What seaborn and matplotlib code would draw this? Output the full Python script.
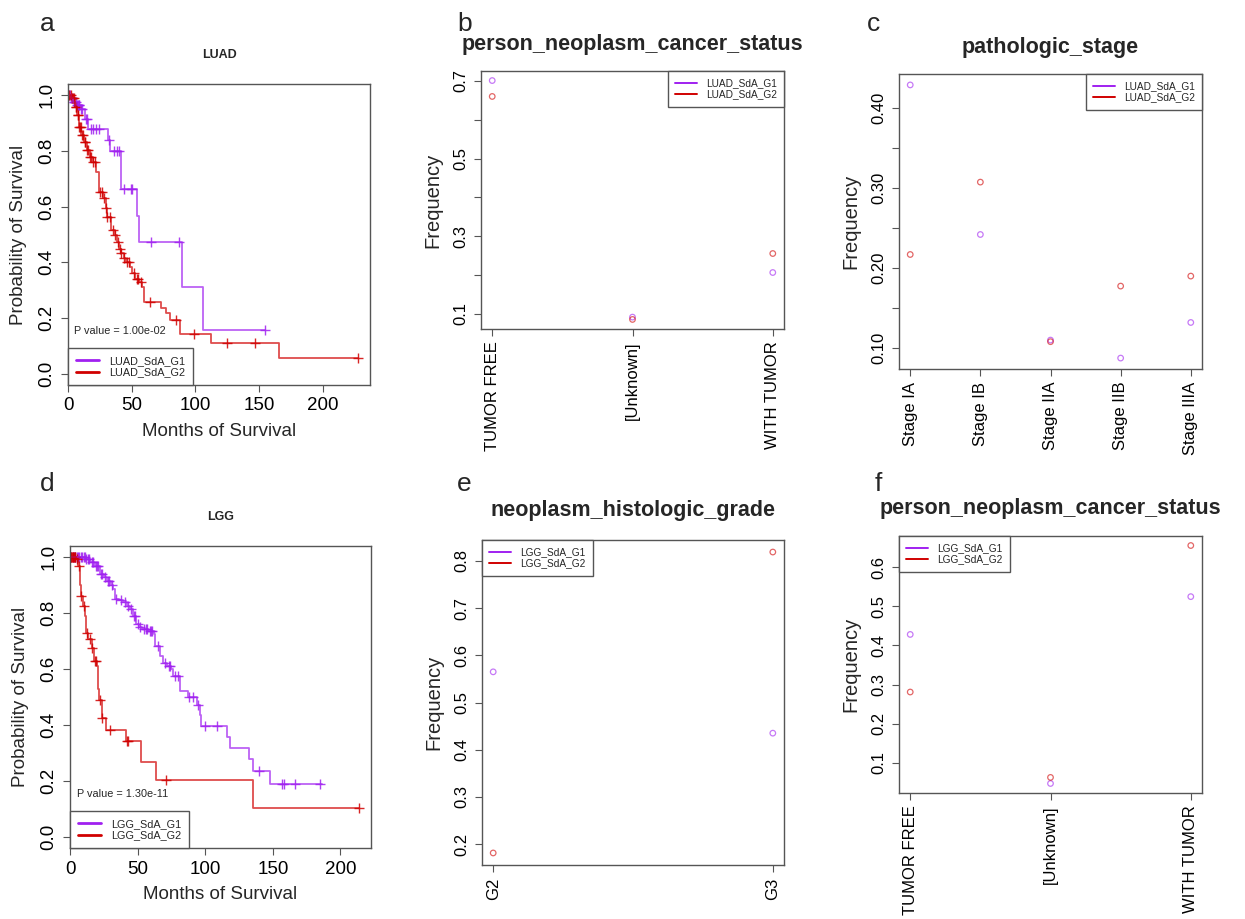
import numpy as np
import matplotlib
matplotlib.use("Agg")
import matplotlib.pyplot as plt
from matplotlib.lines import Line2D
import seaborn as sns

# ---------------- Kaplan-Meier curves ----------------
# LUAD, group 1 (purple)
luad_g1_t = [0, 2, 4, 7, 10, 13, 16, 31.5, 33, 42, 54, 55.5, 89.5, 106]
luad_g1_s = [1.0, 0.988, 0.976, 0.964, 0.952, 0.915, 0.88, 0.84, 0.80, 0.665, 0.567, 0.473, 0.313, 0.158]
luad_g1_end = 155
luad_g1_cens = [1, 1.5, 2.5, 3, 4.5, 5, 6, 7, 8, 8.5, 9, 10.5, 11, 14, 15, 18, 20, 22, 24,
                32.5, 36.5, 38.5, 40, 44, 49.5, 50.5, 65, 87, 155]

# LUAD, group 2 (red)
luad_g2_t = [0, 2.6, 5.2, 7, 8.6, 10.5, 12.3, 15, 17, 19.6, 21.7, 24.3, 27.5, 30, 30.6, 33.5,
             36.6, 38.4, 40, 41.8, 43.7, 45.8, 48.4, 50.5, 52.3, 55.7, 58.3, 60, 73, 77, 79.7,
             87.6, 112.4, 166]
luad_g2_s = [1.0, 0.988, 0.958, 0.928, 0.886, 0.857, 0.833, 0.803, 0.779, 0.761, 0.725, 0.654,
             0.630, 0.594, 0.564, 0.516, 0.498, 0.474, 0.447, 0.432, 0.415, 0.403, 0.385, 0.361,
             0.339, 0.331, 0.313, 0.259, 0.235, 0.217, 0.194, 0.143, 0.112, 0.056]
luad_g2_end = 228
luad_g2_cens = [1, 2, 3, 4, 5, 6, 6.5, 7.5, 8, 9, 9.5, 10, 11, 12, 13, 13.5, 15, 16, 17.5, 18,
                20, 21, 25, 27, 28.5, 30, 31, 33, 35, 37, 39.5, 40.5, 42, 44, 46, 48, 52, 54,
                55, 57, 64, 85, 99, 125, 147, 228]

# LGG, group 1 (purple)
lgg_g1_t = [0, 12, 15, 18.5, 22, 25, 27, 30, 32, 33, 36, 39.4, 42, 44, 46.8, 49, 51, 53, 58,
            62, 63, 66.5, 69, 72, 75, 76, 81, 87, 93.6, 96, 97, 115.8, 118, 132.5, 135.5, 148]
lgg_g1_s = [1.0, 0.994, 0.982, 0.97, 0.94, 0.928, 0.916, 0.90, 0.886, 0.85, 0.846, 0.838, 0.826,
            0.814, 0.79, 0.76, 0.752, 0.742, 0.736, 0.724, 0.683, 0.647, 0.623, 0.61, 0.6, 0.575,
            0.52, 0.5, 0.47, 0.434, 0.398, 0.356, 0.317, 0.277, 0.236, 0.188]
lgg_g1_end = 186
lgg_g1_cens = [1, 2, 3, 4, 5, 6, 7, 8, 9, 10, 11, 12, 13, 14, 16, 17, 19, 20, 21, 23, 24, 26,
               28, 29, 31, 34, 38, 41, 43, 45, 47, 48, 50, 52, 55, 56, 57, 59, 60, 61, 65, 70,
               73, 74, 78, 80, 88, 91, 95, 100, 109, 140, 157, 158, 166, 185]

# LGG, group 2 (red)
lgg_g2_t = [0, 4.5, 6, 7.4, 8, 9.4, 11, 11.8, 13.5, 16, 18, 19.7, 20.4, 21.7, 23.4, 26.6,
            41.4, 52.2, 63.3, 135.5]
lgg_g2_s = [1.0, 0.994, 0.97, 0.90, 0.86, 0.826, 0.79, 0.73, 0.707, 0.677, 0.629, 0.61, 0.527,
            0.49, 0.424, 0.383, 0.341, 0.269, 0.204, 0.102]
lgg_g2_end = 214
lgg_g2_cens = [0.5, 1, 1.5, 2, 2.5, 3, 3.5, 4, 5, 6.6, 8, 10.5, 12.5, 15, 16.5, 18.5, 19.2,
               22.5, 24, 29.6, 42, 43, 71, 214]

# ---------------- Frequency panels ----------------
status_cats = ["TUMOR FREE", "[Unknown]", "WITH TUMOR"]
luad_status_g1 = [0.701, 0.091, 0.206]
luad_status_g2 = [0.660, 0.085, 0.255]

stage_cats = ["Stage IA", "Stage IB", "Stage IIA", "Stage IIB", "Stage IIIA"]
luad_stage_g1 = [0.429, 0.242, 0.110, 0.0875, 0.132]
luad_stage_g2 = [0.217, 0.3075, 0.108, 0.1775, 0.190]

grade_cats = ["G2", "G3"]
lgg_grade_g1 = [0.565, 0.435]
lgg_grade_g2 = [0.181, 0.819]

lgg_status_g1 = [0.428, 0.0475, 0.5245]
lgg_status_g2 = [0.281, 0.063, 0.655]

# ---------------- style ----------------
sns.set_theme(style="white")
plt.rcParams["font.family"] = ["Liberation Sans", "DejaVu Sans"]

PURPLE = "#A020F0"
RED = "#D00000"
FRAME = "#555555"
W, H = 1245, 919

fig = plt.figure(figsize=(W / 100, H / 100), dpi=100)


def rect(l, t, r, b):
    return [l / W, 1 - b / H, (r - l) / W, (b - t) / H]


def style_axes(ax, tick_size):
    for sp in ax.spines.values():
        sp.set_visible(True)
        sp.set_color(FRAME)
        sp.set_linewidth(1.0)
    ax.tick_params(direction="out", length=5, width=0.8, color=FRAME, pad=4,
                   labelsize=tick_size, labelcolor="black", bottom=True, left=True)
    for lbl in ax.get_yticklabels():
        lbl.set_rotation(90)
        lbl.set_va("center")


def add_legend(ax, labels, loc, fontsize, lw):
    handles = [Line2D([], [], color=c, lw=lw, label=l) for c, l in zip([PURPLE, RED], labels)]
    leg = ax.legend(handles=handles, loc=loc, borderaxespad=0, fancybox=False,
                    edgecolor=FRAME, framealpha=1, fontsize=fontsize, handlelength=2.2,
                    handletextpad=0.9, labelspacing=0.15, borderpad=0.7)
    leg.get_frame().set_linewidth(1.0)


def km_panel(ax, curves, title, pval, labels, xmax):
    for t, s, end, cens, col in curves:
        sns.lineplot(x=list(t) + [end], y=list(s) + [s[-1]], ax=ax, drawstyle="steps-post",
                     color=col, alpha=0.7, lw=1.3, estimator=None, sort=False)
        idx = np.searchsorted(t, cens, side="right") - 1
        sns.scatterplot(x=cens, y=np.array(s)[idx], ax=ax, marker="+", s=55,
                        color=col, linewidth=1.0, alpha=0.85)
    ax.set_xlim(0, xmax * 1.04)
    ax.set_ylim(-0.04, 1.04)
    ax.set_xticks([0, 50, 100, 150, 200])
    ax.set_xticklabels(["0", "50", "100", "150", "200"])
    ax.set_yticks([0, 0.2, 0.4, 0.6, 0.8, 1.0])
    ax.set_yticklabels(["0.0", "0.2", "0.4", "0.6", "0.8", "1.0"])
    ax.set_xlabel("Months of Survival", fontsize=13.5, labelpad=6)
    ax.set_ylabel("Probability of Survival", fontsize=13.5, labelpad=8)
    ax.set_title(title, fontsize=9, fontweight="bold", pad=19)
    ax.text(5, 0.152, pval, fontsize=7.8, va="center", ha="left")
    style_axes(ax, 13.5)
    add_legend(ax, labels, "lower left", 7.8, 2.0)


def freq_panel(ax, cats, g1, g2, title, yticks, ylabels, labels, loc, pad):
    for vals, col in [(g1, PURPLE), (g2, RED)]:
        sns.scatterplot(x=cats, y=vals, ax=ax, color=col, facecolors="none", edgecolor=col,
                        s=16, linewidth=0.9, alpha=0.6)
    ax.margins(x=0.04, y=0.04)
    ax.set_yticks(yticks)
    ax.set_yticklabels(ylabels)
    ax.set_ylabel("Frequency", fontsize=14.5, labelpad=8)
    ax.set_xlabel("")
    ax.set_title(title, fontsize=15.5, fontweight="bold", pad=pad)
    style_axes(ax, 12)
    for lbl in ax.get_xticklabels():
        lbl.set_rotation(90)
        lbl.set_va("top")
        lbl.set_ha("center")
    add_legend(ax, labels, loc, 7.3, 1.4)


luad_labels = ["LUAD_SdA_G1", "LUAD_SdA_G2"]
lgg_labels = ["LGG_SdA_G1", "LGG_SdA_G2"]

ax_a = fig.add_axes(rect(68, 84, 370, 385))
km_panel(ax_a,
         [(luad_g1_t, luad_g1_s, luad_g1_end, luad_g1_cens, PURPLE),
          (luad_g2_t, luad_g2_s, luad_g2_end, luad_g2_cens, RED)],
         "LUAD", "P value = 1.00e-02", luad_labels, luad_g2_end)

ax_d = fig.add_axes(rect(70, 546, 371, 848))
km_panel(ax_d,
         [(lgg_g1_t, lgg_g1_s, lgg_g1_end, lgg_g1_cens, PURPLE),
          (lgg_g2_t, lgg_g2_s, lgg_g2_end, lgg_g2_cens, RED)],
         "LGG", "P value = 1.30e-11", lgg_labels, lgg_g2_end)

ax_b = fig.add_axes(rect(481, 71, 784, 329))
freq_panel(ax_b, status_cats, luad_status_g1, luad_status_g2, "person_neoplasm_cancer_status",
           [0.1, 0.2, 0.3, 0.4, 0.5, 0.6, 0.7], ["0.1", "", "0.3", "", "0.5", "", "0.7"],
           luad_labels, "upper right", 15)

ax_c = fig.add_axes(rect(899, 74, 1202, 369))
freq_panel(ax_c, stage_cats, luad_stage_g1, luad_stage_g2, "pathologic_stage",
           [0.10, 0.15, 0.20, 0.25, 0.30, 0.35, 0.40],
           ["0.10", "", "0.20", "", "0.30", "", "0.40"],
           luad_labels, "upper right", 15)

ax_e = fig.add_axes(rect(482, 540, 784, 865))
freq_panel(ax_e, grade_cats, lgg_grade_g1, lgg_grade_g2, "neoplasm_histologic_grade",
           [0.2, 0.3, 0.4, 0.5, 0.6, 0.7, 0.8], ["0.2", "0.3", "0.4", "0.5", "0.6", "0.7", "0.8"],
           lgg_labels, "upper left", 17)

ax_f = fig.add_axes(rect(899, 536, 1202, 793))
freq_panel(ax_f, status_cats, lgg_status_g1, lgg_status_g2, "person_neoplasm_cancer_status",
           [0.1, 0.2, 0.3, 0.4, 0.5, 0.6], ["0.1", "0.2", "0.3", "0.4", "0.5", "0.6"],
           lgg_labels, "upper left", 16)

# panel letters
for letter, x, y in [("a", 40, 31), ("b", 457, 31), ("c", 867, 31),
                     ("d", 40, 491), ("e", 457, 491), ("f", 875, 491)]:
    fig.text(x / W, 1 - y / H, letter, fontsize=19, ha="left", va="baseline")

fig.savefig("out.png", dpi=100)
